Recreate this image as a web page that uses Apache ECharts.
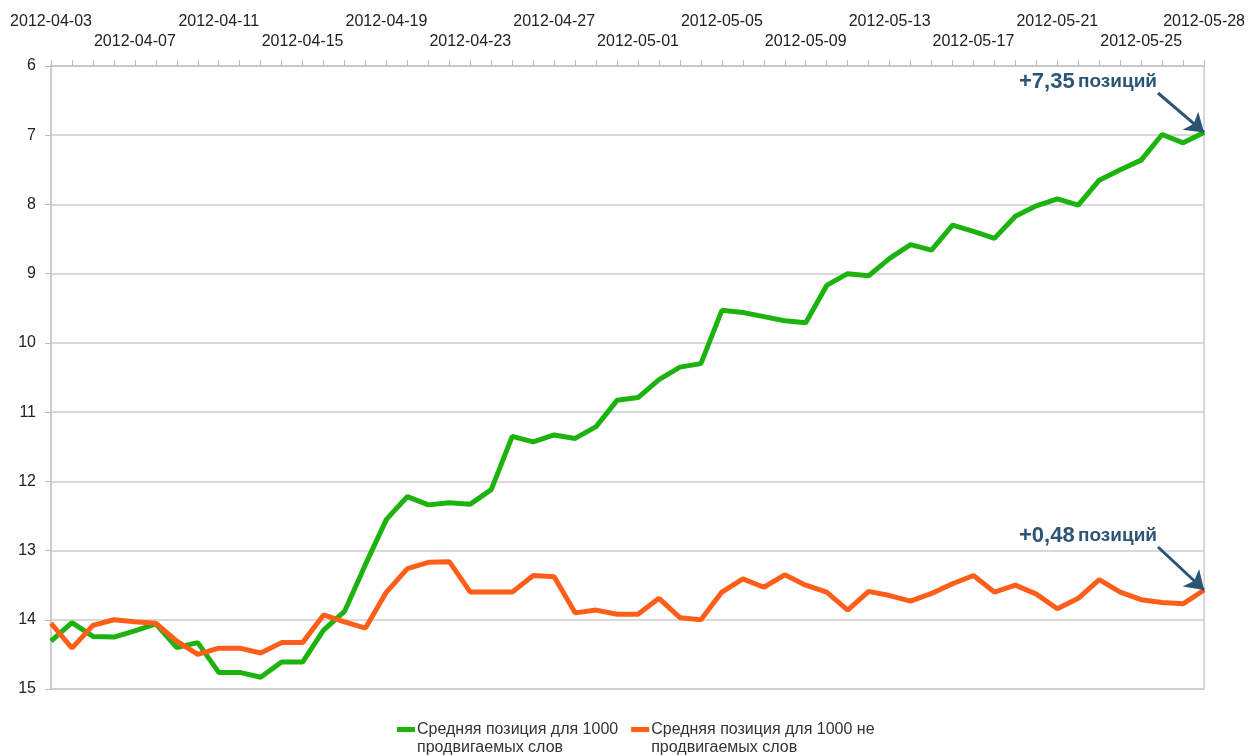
<!DOCTYPE html>
<html><head>
<meta charset="utf-8">
<title>Средняя позиция</title>
<script src="https://cdn.jsdelivr.net/npm/echarts@6/dist/echarts.min.js"></script>
<style>
html,body{margin:0;padding:0;background:#fff;}
#main{width:1248px;height:756px;}
</style>
</head>
<body>
<div id="main"></div>
<script type="text/javascript">
// даты (ось X) — по одной точке на день
var dates = [];
(function () {
    var d = new Date(2012, 3, 3);
    for (var i = 0; i < 56; i++) {
        var m = d.getMonth() + 1, day = d.getDate();
        dates.push('2012-' + (m < 10 ? '0' + m : m) + '-' + (day < 10 ? '0' + day : day));
        d.setDate(d.getDate() + 1);
    }
})();

var yTicks = [6, 7, 8, 9, 10, 11, 12, 13, 14, 15];

var seriesNames = [
    'Средняя позиция для 1000\nпродвигаемых слов',
    'Средняя позиция для 1000 не\nпродвигаемых слов'
];

// продвигаемые слова
var promoted = [14.31, 14.04, 14.24, 14.25, 14.16, 14.06, 14.4, 14.33, 14.76, 14.76,
    14.83, 14.61, 14.61, 14.15, 13.88, 13.2, 12.55, 12.22, 12.34, 12.31,
    12.33, 12.12, 11.35, 11.43, 11.33, 11.38, 11.21, 10.83, 10.79, 10.53,
    10.35, 10.3, 9.53, 9.56, 9.62, 9.68, 9.71, 9.17, 9.0, 9.03,
    8.78, 8.58, 8.66, 8.3, 8.39, 8.49, 8.17, 8.02, 7.92, 8.01,
    7.65, 7.5, 7.36, 6.99, 7.11, 6.96];

// не продвигаемые слова
var notPromoted = [14.05, 14.41, 14.08, 14.0, 14.03, 14.05, 14.31, 14.5, 14.41, 14.41,
    14.48, 14.33, 14.33, 13.93, 14.03, 14.12, 13.6, 13.26, 13.17, 13.16,
    13.6, 13.6, 13.6, 13.36, 13.38, 13.9, 13.86, 13.92, 13.92, 13.69,
    13.97, 14.0, 13.6, 13.41, 13.53, 13.35, 13.5, 13.6, 13.86, 13.59,
    13.65, 13.73, 13.62, 13.48, 13.36, 13.6, 13.5, 13.63, 13.84, 13.69,
    13.42, 13.6, 13.71, 13.75, 13.77, 13.57];

var notes = ['+7,35', '+0,48'];

var font = "'Liberation Sans', Arial, sans-serif";
var noteColor = '#2b5573';
var last = dates.length - 1;

var myChart = echarts.init(document.getElementById('main'));

function arrowLine(values, sx, sy) {
    return {
        silent: true,
        animation: false,
        symbol: ['none', 'arrow'],
        symbolSize: 18,
        itemStyle: { color: noteColor },
        lineStyle: { color: noteColor, width: 3, type: 'solid' },
        label: { show: false },
        emphasis: { disabled: true },
        data: [[{ x: sx, y: sy }, { coord: [dates[last], values[last]] }]]
    };
}

function noteText(txt, top) {
    return {
        type: 'text', right: 1248 - 1157, top: top, silent: true,
        style: {
            text: '{n|' + txt + '} {w|позиций}',
            rich: {
                n: { fontSize: 22, fontWeight: 'bold', fill: noteColor, fontFamily: font },
                w: { fontSize: 19, fontWeight: 'bold', fill: noteColor, fontFamily: font }
            }
        }
    };
}

var option = {
    animation: false,
    textStyle: { fontFamily: font },
    grid: { left: 51, right: 43, top: 66, bottom: 67, show: true, borderColor: '#cccccc', borderWidth: 1.5 },
    legend: {
        left: 392,
        top: 716,
        itemWidth: 18,
        itemHeight: 24,
        itemGap: 13,
        icon: 'path://M0,0h18v5h-18z M0,24h0',
        textStyle: { fontSize: 16, color: '#333', lineHeight: 18, fontFamily: font, padding: [0, 0, 0, -3] },
        data: seriesNames
    },
    xAxis: {
        type: 'category',
        position: 'top',
        boundaryGap: false,
        data: dates,
        axisLine: { lineStyle: { color: '#c8c8c8', width: 1.5 } },
        axisTick: { show: true, interval: 0, length: 6, lineStyle: { color: '#bbbbbb' } },
        axisLabel: {
            margin: 16,
            interval: function (index) { return index % 4 === 0 || index === last; },
            formatter: function (value, index) {
                return index % 8 === 4 ? '{b|' + value + '}' : '{a|' + value + '}';
            },
            rich: {
                a: { fontSize: 16, color: '#222', fontFamily: font, padding: [0, 0, 20, 0] },
                b: { fontSize: 16, color: '#222', fontFamily: font }
            }
        },
        splitLine: { show: false }
    },
    yAxis: {
        type: 'value',
        inverse: true,
        min: yTicks[0],
        max: yTicks[yTicks.length - 1],
        interval: 1,
        axisLine: { show: true, lineStyle: { color: '#c8c8c8', width: 1.5 } },
        axisTick: { show: true, length: 6, lineStyle: { color: '#bbbbbb' } },
        axisLabel: { margin: 15, fontSize: 16, color: '#222', fontFamily: font },
        splitLine: { lineStyle: { color: '#cccccc', width: 1.5 } }
    },
    graphic: [
        noteText(notes[0], 71),
        noteText(notes[1], 525)
    ],
    series: [
        {
            name: seriesNames[0],
            type: 'line',
            data: promoted,
            symbol: 'none',
            color: '#1db30f',
            lineStyle: { width: 5, color: '#1db30f' },
            markLine: arrowLine(promoted, 1158, 93)
        },
        {
            name: seriesNames[1],
            type: 'line',
            data: notPromoted,
            symbol: 'none',
            color: '#ff5e1a',
            lineStyle: { width: 5, color: '#ff5e1a' },
            markLine: arrowLine(notPromoted, 1158, 547)
        }
    ]
};

myChart.setOption(option);
</script>
</body>
</html>
